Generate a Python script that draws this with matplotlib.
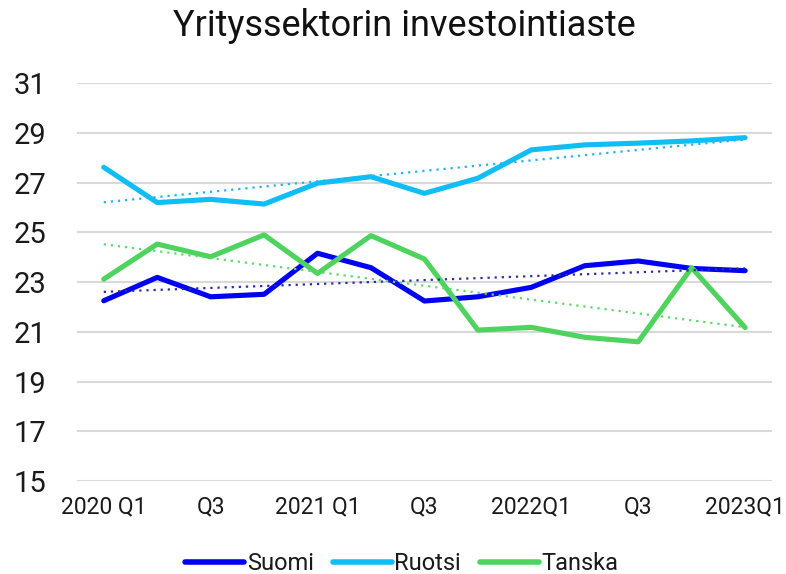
import numpy as np
import matplotlib
matplotlib.use("Agg")
import matplotlib.pyplot as plt

plt.rcParams['font.family'] = ['Roboto', 'DejaVu Sans']

title = "Yrityssektorin investointiaste"
quarters = ["2020 Q1", "Q2", "Q3", "Q4", "2021 Q1", "Q2", "Q3", "Q4",
            "2022Q1", "Q2", "Q3", "Q4", "2023Q1"]
tick_labels = ["2020 Q1", "", "Q3", "", "2021 Q1", "", "Q3", "",
               "2022Q1", "", "Q3", "", "2023Q1"]
suomi = [22.25, 23.19, 22.41, 22.51, 24.16, 23.58, 22.24, 22.41, 22.79,
         23.66, 23.85, 23.55, 23.46]
ruotsi = [27.62, 26.20, 26.33, 26.14, 26.98, 27.24, 26.57, 27.18, 28.32,
          28.52, 28.59, 28.68, 28.81]
tanska = [23.12, 24.53, 24.02, 24.90, 23.35, 24.87, 23.93, 21.07, 21.18,
          20.78, 20.60, 23.58, 21.17]
series_names = ["Suomi", "Ruotsi", "Tanska"]
colors = ["#0000F5", "#10BEF5", "#4ED35E"]
trend_colors = ["#2B2BA8", "#20B5EE", "#5ED86B"]

fig = plt.figure(figsize=(7.86, 5.74), dpi=100)
ax = fig.add_axes([0.098, 0.162, 0.884, 0.693])

x = np.arange(len(quarters))
for vals, name, c, tc in zip([suomi, ruotsi, tanska], series_names, colors, trend_colors):
    ax.plot(x, vals, color=c, lw=3.7, label=name, solid_joinstyle='round',
            solid_capstyle='round', zorder=3)
    k, b = np.polyfit(x, vals, 1)
    ax.plot(x, k * x + b, color=tc, lw=1.6, ls=(0, (1, 2.2)), zorder=4)

ax.set_xlim(-0.5, 12.5)
ax.set_ylim(15, 31)
ax.set_yticks(np.arange(15, 32, 2))
ax.set_xticks(x)
ax.set_xticklabels(tick_labels)
ax.grid(axis='y', color='#D9D9D9', lw=1.5)
ax.set_axisbelow(True)
for s in ax.spines.values():
    s.set_visible(False)
ax.tick_params(axis='both', length=0)
ax.tick_params(axis='y', labelsize=21, pad=22, labelcolor='#1a1a1a')
ax.tick_params(axis='x', labelsize=16.5, pad=10, labelcolor='#1a1a1a')

fig.text(0.514, 0.955, title, ha='center', va='center', fontsize=26, color='#111111')

leg = fig.legend(loc='center', bbox_to_anchor=(0.511, 0.018), ncol=3, frameon=False,
                 fontsize=17, handlelength=2.5, handletextpad=0.1, columnspacing=0.8,
                 labelcolor='#1a1a1a')
for h in leg.get_lines():
    h.set_linewidth(4)

fig.savefig("out.png", dpi=100, facecolor='white')
